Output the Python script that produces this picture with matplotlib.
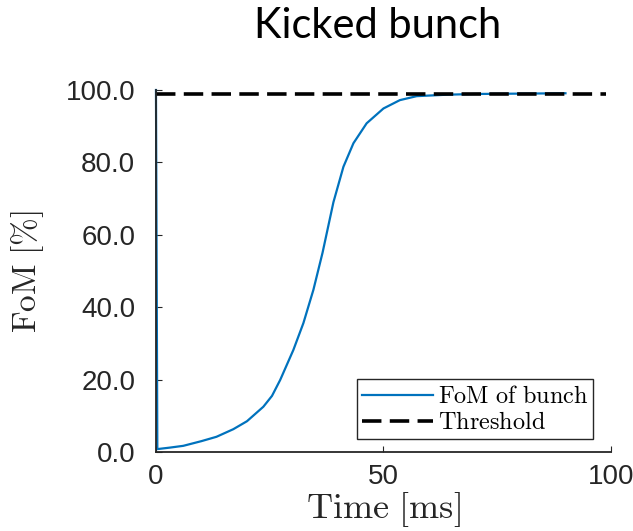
import matplotlib
matplotlib.use("Agg")
import matplotlib.pyplot as plt

# FoM of the kicked bunch over time
time_ms = [0, 0.3, 3, 6, 10, 13.3, 17, 20, 23.6, 25.5, 27.3, 30.2, 32.4, 34.6,
           36.6, 39.0, 41.2, 43.4, 46.3, 50.0, 53.6, 57.3, 63.9, 70, 80, 90]
fom_pct = [100, 0.8, 1.2, 1.7, 3.0, 4.2, 6.3, 8.5, 12.5, 15.5, 19.9, 28.2, 35.6, 44.8,
           55.0, 69.0, 78.8, 85.3, 90.8, 94.9, 97.2, 98.3, 98.7, 98.9, 99.0, 99.1]

threshold_t = [0, 99]
threshold_v = [99, 99]

xticks = [0, 50, 100]
yticks = [0, 20, 40, 60, 80, 100]

plt.rcParams["mathtext.fontset"] = "cm"

fig = plt.figure(figsize=(6.33, 5.31), dpi=100)
ax = fig.add_axes([0.2464, 0.1488, 0.7188, 0.6817])

ax.plot(time_ms, fom_pct, color="#0072BD", lw=1.6, clip_on=False,
        label=r"$\mathrm{FoM\ of\ bunch}$")
lw_th = 2.6
ax.plot(threshold_t, threshold_v, color="black", lw=lw_th, clip_on=False,
        dashes=(14.0 / lw_th, 6.0 / lw_th), label=r"$\mathrm{Threshold}$")

ax.set_xlim(0, 100)
ax.set_ylim(0, 100)
ax.set_xticks(xticks)
ax.set_yticks(yticks)
ax.set_xticklabels([str(v) for v in xticks])
ax.set_yticklabels(["%.1f" % v for v in yticks])

for side in ("top", "right"):
    ax.spines[side].set_visible(False)
for side in ("left", "bottom"):
    ax.spines[side].set_linewidth(1.3)
    ax.spines[side].set_color("#262626")

ax.tick_params(direction="in", length=4, width=0.8, colors="#262626",
               labelsize=20)
ax.tick_params(axis="y", pad=15)
ax.tick_params(axis="x", pad=9)
for lbl in ax.get_xticklabels() + ax.get_yticklabels():
    lbl.set_family("Liberation Sans")
    lbl.set_color("#262626")

ax.set_xlabel(r"$\mathrm{Time\ [ms]}$", fontsize=26, color="#262626", labelpad=0)
ax.set_ylabel(r"$\mathrm{FoM\ [\%]}$", fontsize=24, color="#262626", labelpad=14)

leg = ax.legend(loc="lower right", bbox_to_anchor=(0.96, 0.035), fontsize=17.5,
                handlelength=2.9, handletextpad=0.2, borderpad=0.2,
                labelspacing=0.1, fancybox=False, framealpha=1,
                borderaxespad=0)
leg.get_frame().set_edgecolor("#262626")
leg.get_frame().set_linewidth(1.0)

fig.text(0.596, 0.928, "Kicked bunch", fontsize=30, family="Lato",
         ha="center", va="baseline")

fig.savefig("out.png", dpi=100)
